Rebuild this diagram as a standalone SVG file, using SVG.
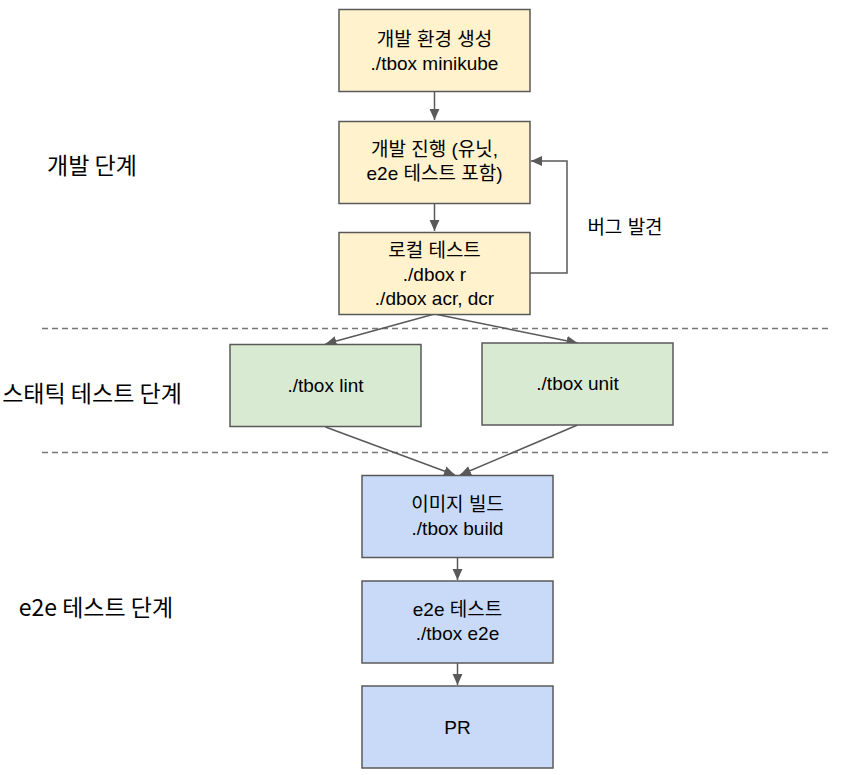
<svg xmlns="http://www.w3.org/2000/svg" width="844" height="775" viewBox="0 0 844 775">
<style>
.box{stroke:#595959;stroke-width:1.5}
.y{fill:#fff2cc}.g{fill:#d9ead3}.b{fill:#c9daf8}
.t{font-family:"Liberation Sans","Noto Sans CJK KR",sans-serif;font-size:19px;fill:#000;text-anchor:middle}
.lab{font-family:"Noto Sans CJK KR","Liberation Sans",sans-serif;font-size:23px;fill:#000;text-anchor:middle}
.c{fill:none;stroke:#595959;stroke-width:1.5}
.d{fill:none;stroke:#777;stroke-width:1.5;stroke-dasharray:6 4}
</style>
<defs>
<marker id="ah" viewBox="0 0 10 10" refX="10" refY="5" markerWidth="11" markerHeight="11" markerUnits="userSpaceOnUse" orient="auto">
<path d="M0,0.5 L10,5 L0,9.5 z" fill="#595959"/>
</marker>
</defs>
<g id="phase-labels">
<text class="lab" x="92" y="174">개발 단계</text>
<text class="lab" x="92" y="402">스태틱 테스트 단계</text>
<text class="lab" x="96" y="616">e2e 테스트 단계</text>
</g>
<g id="separators">
<line class="d" x1="42" y1="328.5" x2="828" y2="328.5"/>
<line class="d" x1="42" y1="452.5" x2="828" y2="452.5"/>
</g>
<g id="connectors">
<line class="c" x1="434.5" y1="91" x2="434.5" y2="120" marker-end="url(#ah)"/>
<line class="c" x1="434.5" y1="203" x2="434.5" y2="231" marker-end="url(#ah)"/>
<polyline class="c" points="530,273 567,273 567,161 531,161" marker-end="url(#ah)"/>
<line class="c" x1="434.5" y1="314" x2="325.5" y2="344" marker-end="url(#ah)"/>
<line class="c" x1="434.5" y1="314" x2="577.5" y2="343" marker-end="url(#ah)"/>
<line class="c" x1="325.5" y1="427" x2="455" y2="475" marker-end="url(#ah)"/>
<line class="c" x1="577.5" y1="425" x2="460" y2="475" marker-end="url(#ah)"/>
<line class="c" x1="457.5" y1="558" x2="457.5" y2="580" marker-end="url(#ah)"/>
<line class="c" x1="457.5" y1="663" x2="457.5" y2="685" marker-end="url(#ah)"/>
<text class="t" x="625" y="234">버그 발견</text>
</g>
<g id="n-env">
<rect class="box y" x="339" y="9.5" width="191" height="82"/>
<text class="t" x="434.5" y="46">개발 환경 생성</text>
<text class="t" x="434.5" y="70">./tbox minikube</text>
</g>
<g id="n-dev">
<rect class="box y" x="339" y="121.5" width="191" height="82"/>
<text class="t" x="434.5" y="156">개발 진행 (유닛,</text>
<text class="t" x="434.5" y="180">e2e 테스트 포함)</text>
</g>
<g id="n-local">
<rect class="box y" x="339" y="232.5" width="191" height="82"/>
<text class="t" x="434.5" y="257">로컬 테스트</text>
<text class="t" x="434.5" y="281">./dbox r</text>
<text class="t" x="434.5" y="305">./dbox acr, dcr</text>
</g>
<g id="n-lint">
<rect class="box g" x="230" y="344.5" width="191" height="82"/>
<text class="t" x="325.5" y="392">./tbox lint</text>
</g>
<g id="n-unit">
<rect class="box g" x="482" y="343" width="191" height="82"/>
<text class="t" x="577.5" y="390">./tbox unit</text>
</g>
<g id="n-build">
<rect class="box b" x="362" y="475.5" width="191" height="82"/>
<text class="t" x="457.5" y="511">이미지 빌드</text>
<text class="t" x="457.5" y="535">./tbox build</text>
</g>
<g id="n-e2e">
<rect class="box b" x="362" y="581" width="191" height="82"/>
<text class="t" x="457.5" y="616">e2e 테스트</text>
<text class="t" x="457.5" y="640">./tbox e2e</text>
</g>
<g id="n-pr">
<rect class="box b" x="362" y="686" width="191" height="82"/>
<text class="t" x="457.5" y="734">PR</text>
</g>
</svg>
